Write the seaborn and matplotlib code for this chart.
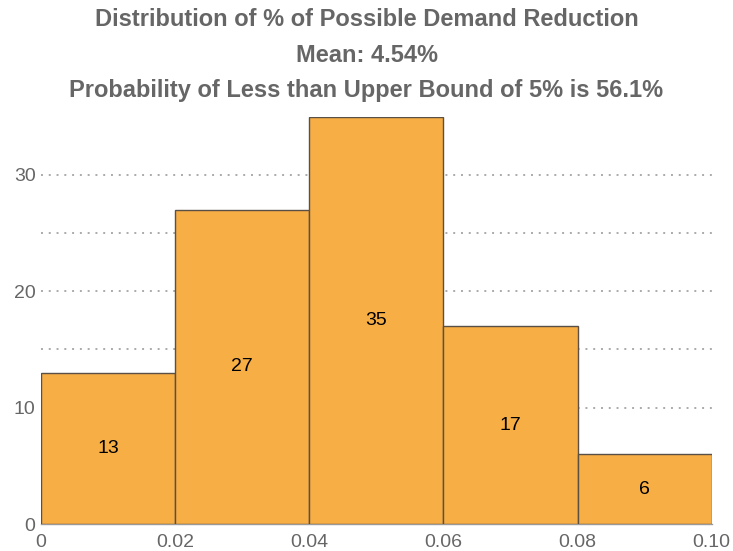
"""Histogram of possible demand reduction."""

import matplotlib
matplotlib.use("Agg")
import matplotlib.pyplot as plt
import seaborn as sns
import numpy as np

# bin edges and counts
bin_edges = [0.0, 0.02, 0.04, 0.06, 0.08, 0.10]
counts = [13, 27, 35, 17, 6]
x_tick_labels = ["0", "0.02", "0.04", "0.06", "0.08", "0.10"]
title_lines = [
    "Distribution of % of Possible Demand Reduction",
    "Mean: 4.54%",
    "Probability of Less than Upper Bound of 5% is 56.1%",
]

sns.set_style("white")
plt.rcParams["font.family"] = ["Liberation Sans", "DejaVu Sans"]

bin_centers = [(a + b) / 2 for a, b in zip(bin_edges[:-1], bin_edges[1:])]

fig = plt.figure(figsize=(7.33, 5.51), dpi=100)
ax = fig.add_axes([0.056, 0.049, 0.915, 0.739])

sns.histplot(x=bin_centers, weights=counts, bins=bin_edges, ax=ax,
             color="#F7AE45", alpha=1.0, edgecolor="#5a5045", linewidth=1.0,
             zorder=3)

# counts written in the middle of each bar
ax.bar_label(ax.containers[0], labels=[str(c) for c in counts],
             label_type="center", fontsize=14, color="black")

ax.set_xlim(bin_edges[0], bin_edges[-1])
ax.set_ylim(0, 35)
ax.set_xticks(bin_edges)
ax.set_xticklabels(x_tick_labels)
ax.set_yticks([0, 10, 20, 30])
ax.set_yticks([5, 15, 25], minor=True)
ax.set_xlabel("")
ax.set_ylabel("")

ax.grid(axis="y", which="both", linestyle=(0, (1, 3)), color="#aaaaaa",
        linewidth=1.4, zorder=0)
ax.set_axisbelow(True)
ax.tick_params(axis="both", which="both", length=0, labelsize=14,
               labelcolor="#666666", pad=4)
ax.tick_params(axis="x", pad=7)

for side in ["top", "right", "left"]:
    ax.spines[side].set_visible(False)
ax.spines["bottom"].set_color("#999999")
ax.spines["bottom"].set_linewidth(1.0)

for i, line in enumerate(title_lines):
    fig.text(0.5, 1 - (20 + 35 * i) / 551, line, ha="center", va="center",
             fontsize=17, fontweight="bold", color="#666666")

plt.savefig("out.png", dpi=100)
plt.close()
